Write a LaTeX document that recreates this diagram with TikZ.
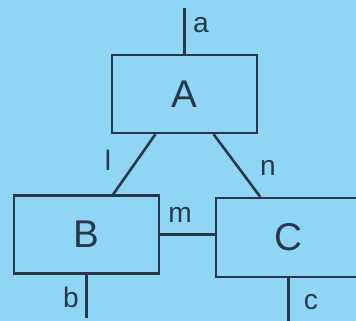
\documentclass[tikz,border=0pt]{standalone}
\usepackage{fontspec}
\setmainfont{Liberation Sans}
\usepackage{tikz}
\usetikzlibrary{positioning}
\definecolor{bgblue}{RGB}{142,214,244}
\definecolor{inkblue}{RGB}{40,56,74}

\begin{document}
\begin{tikzpicture}[
    x=0.03cm, y=-0.03cm,
    block/.style={rectangle, draw=inkblue, line width=2.2pt, minimum width=4.35cm,
                  minimum height=2.33cm, inner sep=0pt, text=inkblue,
                  font=\fontsize{33}{36}\selectfont},
    wire/.style={draw=inkblue, line width=2.2pt},
    tag/.style={text=inkblue, inner sep=0pt, font=\fontsize{24}{28}\selectfont}
]
    % Background and frame
    \fill[bgblue] (0,0) rectangle (356,321);
    \useasboundingbox (0,0) rectangle (356,321);

    % Blocks
    \node[block] (A) at (184.5,94) {A};
    \node[block] (B) at (86.5,234.5) {B};
    \node[block, minimum height=2.37cm] (C) at (288.5,237.5) {C};

    % Free ends of the outer wires
    \coordinate (aEnd) at (184.5,8);
    \coordinate (bEnd) at (86.5,318);
    \coordinate (cEnd) at (288.5,321);

    % Wires
    \draw[wire] (A.north) -- (aEnd);
    \draw[wire] ([xshift=-0.87cm]A.south) -- ([xshift=0.8cm]B.north);
    \draw[wire] ([xshift=0.87cm]A.south) -- ([xshift=-0.85cm]C.north);
    \draw[wire] (B.east) -- (B.east -| C.west);
    \draw[wire] (B.south) -- (bEnd);
    \draw[wire] (C.south) -- (cEnd);

    % Wire labels
    \node[tag] (la) at (201,25) {a};
    \node[tag] (ll) at (108,160) {l};
    \node[tag] (ln) at (268,168) {n};
    \node[tag] (lm) at (180,215) {m};
    \node[tag] (lb) at (71,297) {b};
    \node[tag] (lc) at (311,302) {c};
\end{tikzpicture}
\end{document}
